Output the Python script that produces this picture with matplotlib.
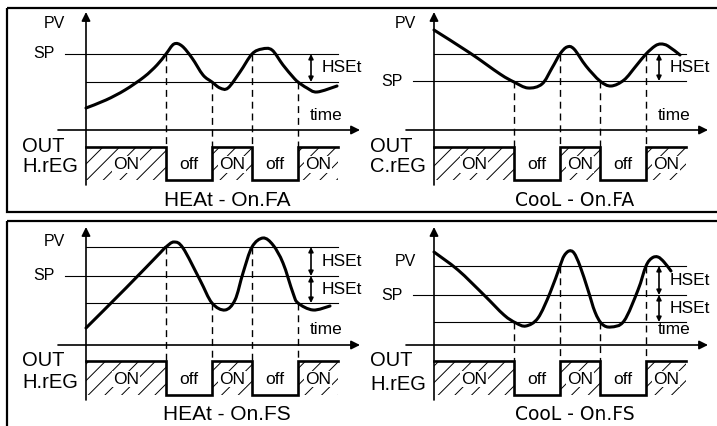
import numpy as np
import matplotlib.pyplot as plt
from matplotlib.path import Path
from matplotlib.patches import PathPatch, Rectangle

plt.rcParams['font.family'] = ['Liberation Sans', 'DejaVu Sans']
plt.rcParams['hatch.linewidth'] = 0.7

# switching instants (time after the PV axis) and output states, shared by all panels
switch_t = [0, 80, 126, 166, 212, 252]
out_labels = ['ON', 'off', 'ON', 'off', 'ON']
out_on = [1, 0, 1, 0, 1]

# --- HEAt - On.FA -------------------------------------------------------
tl_levels = [76, 48]            # SP, SP - HSEt
tl_sp = 76
tl_cross = [76, 48, 76, 48]     # level where PV crosses at each switch
tl_pv_t = [0, 20, 39, 58, 71, 80, 88, 96, 106, 117, 126, 134, 142, 154, 166, 176, 186, 197, 207, 212, 221, 231, 251]
tl_pv_v = [22, 30, 40, 53, 65, 76, 86, 84, 72, 55, 48, 42, 42, 58, 76, 81, 80, 65, 53, 48, 42, 38, 44]

# --- CooL - On.FA -------------------------------------------------------
tr_levels = [76, 49]            # SP + HSEt, SP
tr_sp = 49
tr_cross = [49, 76, 49, 76]
tr_pv_t = [0, 36, 66, 80, 94, 108, 118, 126, 133, 140, 152, 166, 177, 190, 202, 212, 221, 227, 234, 246]
tr_pv_v = [100, 77, 56, 48, 42, 46, 62, 76, 83, 81, 64, 49, 44, 50, 64, 76, 84, 86, 84, 75]

# --- HEAt - On.FS -------------------------------------------------------
bl_levels = [98, 69, 42]        # SP + HSEt, SP, SP - HSEt
bl_sp = 69
bl_cross = [98, 42, 98, 42]
bl_pv_t = [0, 40, 74, 80, 88, 97, 114, 126, 139, 149, 157, 166, 177, 187, 197, 207, 212, 227, 244]
bl_pv_v = [17, 57, 92, 98, 103, 97, 65, 42, 35, 45, 72, 98, 107, 100, 82, 52, 42, 35, 39]

# --- CooL - On.FS -------------------------------------------------------
br_levels = [79, 50, 23]
br_sp = 50
br_cross = [23, 79, 23, 79]
br_pv_t = [0, 24, 50, 70, 82, 92, 104, 116, 126, 130, 135, 140, 146, 154, 161, 168, 177, 190, 204, 212, 218, 224, 230, 237]
br_pv_v = [93, 75, 50, 30, 22, 19, 27, 52, 79, 89, 94, 92, 79, 55, 33, 21, 18, 24, 55, 79, 87, 88, 83, 74]

panels = [
    dict(ox=86, oy=130, levels=tl_levels, sp=tl_sp, cross=tl_cross, t=tl_pv_t, v=tl_pv_v,
         out_hi=-17, out_lo=-50, name='H.rEG', title='HEAt - On.FA', tfont='Liberation Sans',
         pv_pos=(-32, 106), out_pos=(-17, -37)),
    dict(ox=434, oy=130, levels=tr_levels, sp=tr_sp, cross=tr_cross, t=tr_pv_t, v=tr_pv_v,
         out_hi=-17, out_lo=-50, name='C.rEG', title='CooL - On.FA', tfont='DejaVu Sans',
         pv_pos=(-29, 106), out_pos=(-17, -37)),
    dict(ox=86, oy=345, levels=bl_levels, sp=bl_sp, cross=bl_cross, t=bl_pv_t, v=bl_pv_v,
         out_hi=-16, out_lo=-50, name='H.rEG', title='HEAt - On.FS', tfont='Liberation Sans',
         pv_pos=(-32, 104), out_pos=(-16, -38)),
    dict(ox=434, oy=345, levels=br_levels, sp=br_sp, cross=br_cross, t=br_pv_t, v=br_pv_v,
         out_hi=-16, out_lo=-50, name='H.rEG', title='CooL - On.FS', tfont='DejaVu Sans',
         pv_pos=(-29, 84), out_pos=(-16, -40)),
]


def smooth_path(xs, ys):
    # Catmull-Rom through the read points, drawn as cubic Bezier segments
    p = np.column_stack([xs, ys]).astype(float)
    pts = np.vstack([p[0], p, p[-1]])
    verts = [p[0]]
    codes = [Path.MOVETO]
    for i in range(1, len(pts) - 2):
        c1 = pts[i] + (pts[i + 1] - pts[i - 1]) / 6.0
        c2 = pts[i + 1] - (pts[i + 2] - pts[i]) / 6.0
        verts += [c1, c2, pts[i + 1]]
        codes += [Path.CURVE4] * 3
    return Path(verts, codes)


def draw_panel(ax, p):
    ox, oy = p['ox'], p['oy']
    X = lambda t: ox + np.asarray(t, dtype=float)
    Y = lambda v: oy - np.asarray(v, dtype=float)
    t_end = switch_t[-1]

    # axes with arrows
    ax.annotate('', xy=(X(0), Y(118)), xytext=(X(0), Y(-55)),
                arrowprops=dict(arrowstyle='-|>', lw=1.2, color='black',
                                mutation_scale=13, shrinkA=0, shrinkB=0))
    ax.annotate('', xy=(X(274), Y(0)), xytext=(X(-28), Y(0)),
                arrowprops=dict(arrowstyle='-|>', lw=1.2, color='black',
                                mutation_scale=13, shrinkA=0, shrinkB=0))

    # reference lines
    for lv in p['levels']:
        t0 = -21 if lv == p['sp'] else 0
        ax.plot([X(t0), X(t_end)], [Y(lv), Y(lv)], color='black', lw=0.8)

    # HSEt arrows
    lv = sorted(p['levels'], reverse=True)
    for a, b in zip(lv[:-1], lv[1:]):
        ax.annotate('', xy=(X(225), Y(a)), xytext=(X(225), Y(b)),
                    arrowprops=dict(arrowstyle='<|-|>', lw=1.2, color='black',
                                    mutation_scale=7, shrinkA=0, shrinkB=0))
        ax.text(X(236), Y((a + b) / 2), 'HSEt', fontsize=12.5, ha='left', va='center')

    # labels
    ax.text(X(p['pv_pos'][0]), Y(p['pv_pos'][1]), 'PV', fontsize=11.5, ha='center', va='center')
    ax.text(X(-42), Y(p['sp']), 'SP', fontsize=11.5, ha='center', va='center')
    ax.text(X(240), Y(15), 'time', fontsize=12.5, ha='center', va='center')
    ax.text(X(-64), Y(p['out_pos'][0]), 'OUT', fontsize=14.5, ha='left', va='center')
    ax.text(X(-64), Y(p['out_pos'][1]), p['name'], fontsize=14.5, ha='left', va='center')
    ax.text(X(141), Y(-70), p['title'], fontsize=15 if p['tfont'] == 'Liberation Sans' else 13.5,
            ha='center', va='center', family=p['tfont'])

    # dashed switching lines
    for t, lvl in zip(switch_t[1:-1], p['cross']):
        ax.plot([X(t), X(t)], [Y(lvl), Y(p['out_hi'])], color='black', lw=1.0,
                dashes=(5, 3.5))

    # output waveform
    hi, lo = p['out_hi'], p['out_lo']
    wx, wy = [], []
    for k, on in enumerate(out_on):
        a, b = switch_t[k], switch_t[k + 1]
        lvl = hi if on else lo
        mid = (a + b) / 2
        if on:
            ax.add_patch(Rectangle((X(a), Y(hi)), b - a, hi - lo, fill=False,
                                   hatch='//', lw=0, edgecolor='black'))
        ax.text(X(mid), Y((hi + lo) / 2 - 1), out_labels[k], fontsize=12.5,
                ha='center', va='center',
                bbox=dict(fc='white', ec='none', pad=0.5) if on else None)
        wx += [a, b]
        wy += [lvl, lvl]
    ax.plot(X(wx), Y(wy), color='black', lw=1.9, solid_joinstyle='miter')

    # PV curve
    path = smooth_path(X(p['t']), Y(p['v']))
    ax.add_patch(PathPatch(path, fill=False, lw=2.2, edgecolor='black', capstyle='round'))


fig = plt.figure(figsize=(7.17, 4.26), dpi=100)
ax = fig.add_axes([0, 0, 1, 1])
ax.set_xlim(0, 717)
ax.set_ylim(426, 0)
ax.axis('off')

# frames
ax.add_patch(Rectangle((7, 8), 730, 204, fill=False, lw=1.6, edgecolor='black'))
ax.add_patch(Rectangle((7, 221), 730, 230, fill=False, lw=1.6, edgecolor='black'))

for p in panels:
    draw_panel(ax, p)

fig.savefig('out.png', dpi=100)
